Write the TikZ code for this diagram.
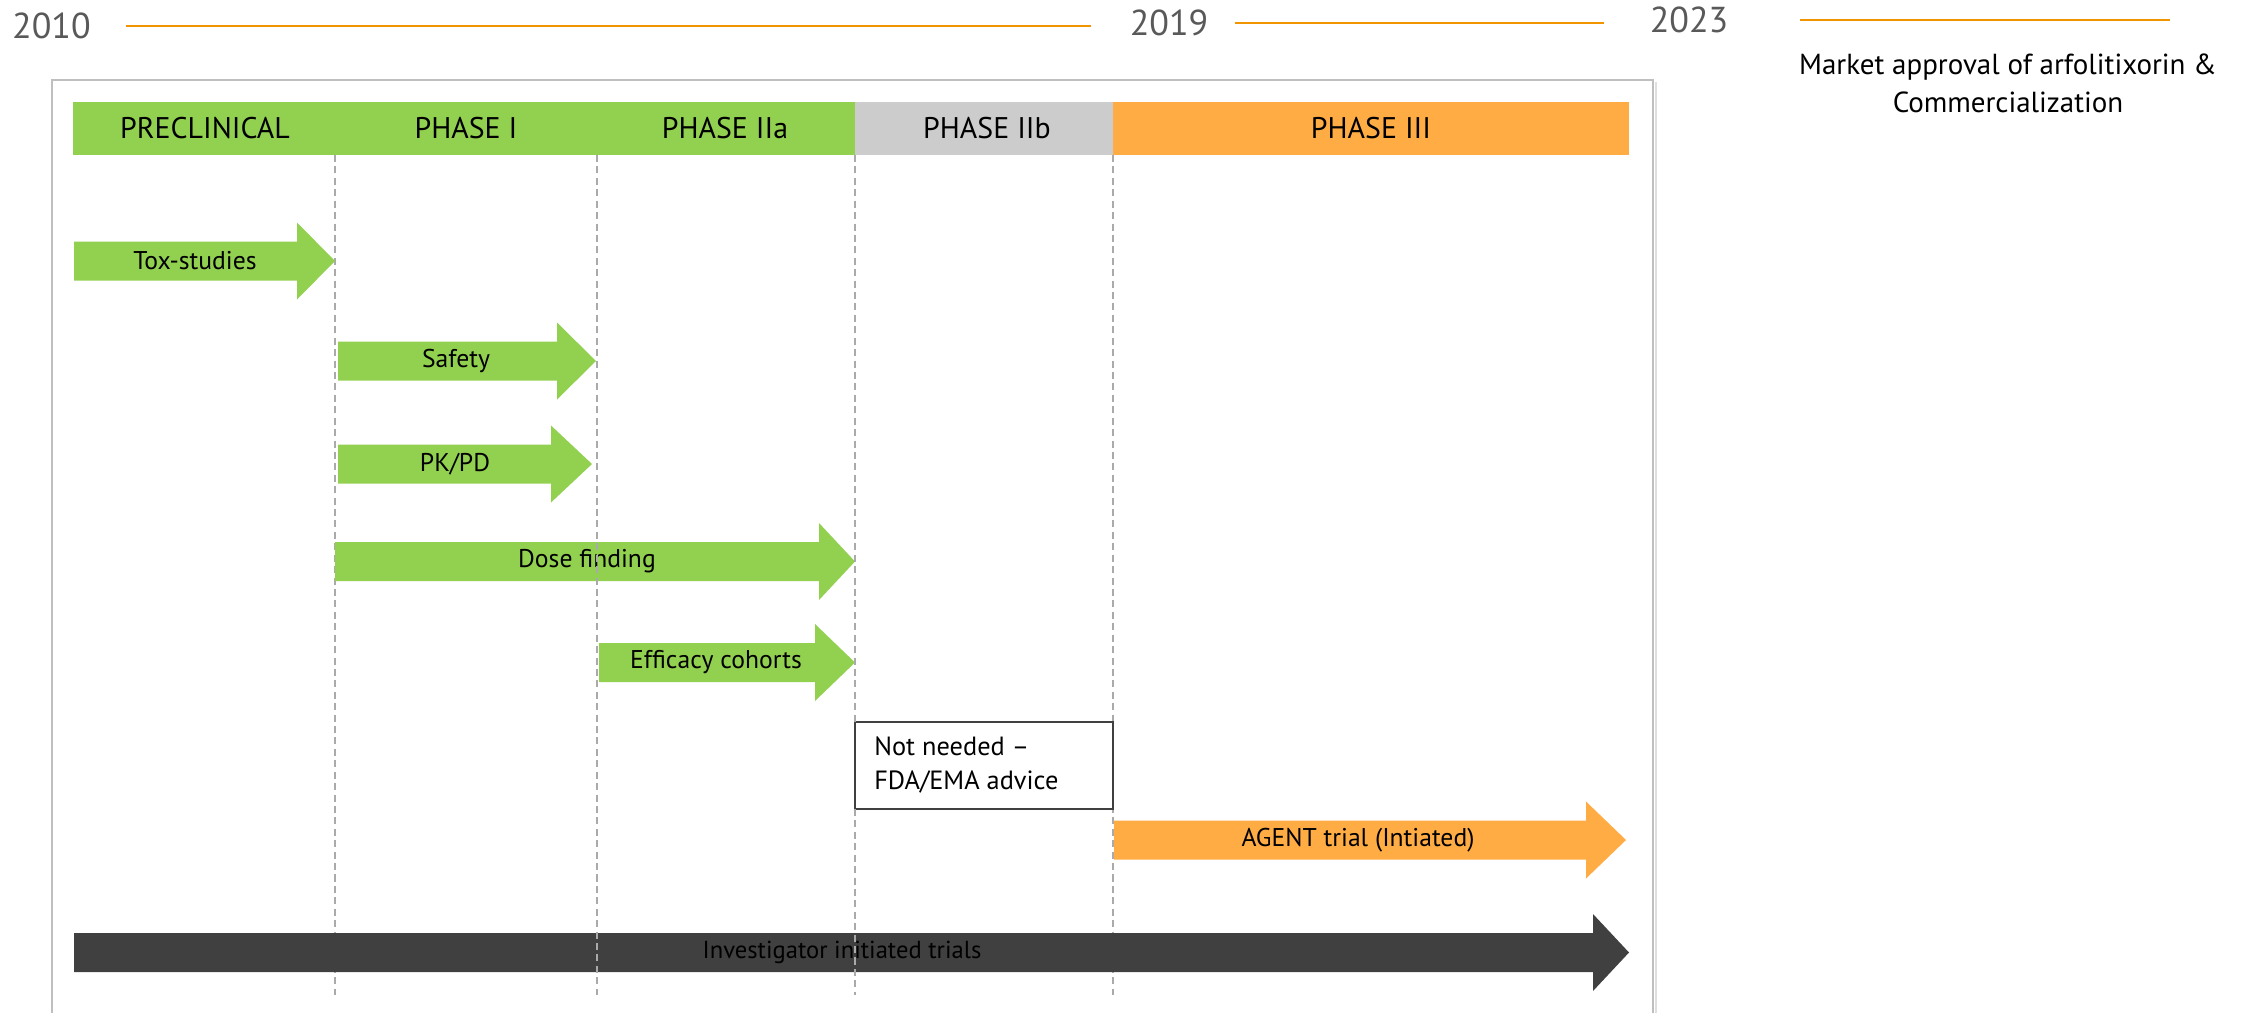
\documentclass[tikz,border=0pt]{standalone}
\usepackage{fontspec}
\setmainfont{PT Sans}
\definecolor{pgreen}{RGB}{146,208,80}
\definecolor{porange}{RGB}{255,172,69}
\definecolor{pgrey}{RGB}{204,204,204}
\definecolor{pdark}{RGB}{64,64,64}
\definecolor{tline}{RGB}{240,148,0}
\definecolor{yeartext}{RGB}{89,89,89}
\definecolor{framegrey}{RGB}{191,191,191}
\definecolor{guide}{RGB}{170,170,170}

% block arrow: name, fill, x-left, x-head, x-tip, y-centre, label, label-x
\newcommand\flowarrow[8]{%
  \fill[#2] (#3,{#6-19.5}) -- (#4,{#6-19.5}) -- (#4,{#6-38.5}) -- (#5,#6)
    -- (#4,{#6+38.5}) -- (#4,{#6+19.5}) -- (#3,{#6+19.5}) -- cycle;
  \node[arrowlabel] (#1) at (#8,#6) {#7};
}

\begin{document}
\begin{tikzpicture}[x=0.02cm,y=-0.02cm,
  yearlabel/.style={text=yeartext,font=\fontsize{20.5}{24}\selectfont,inner sep=0pt},
  yearline/.style={draw=tline,line width=1.5pt},
  phaselabel/.style={font=\fontsize{17}{20}\selectfont,inner sep=0pt},
  arrowlabel/.style={font=\fontsize{14.6}{17}\selectfont,inner sep=0pt},
  guideline/.style={draw=guide,dashed,dash pattern=on 4pt off 2.5pt,line width=0.6pt},
]
\useasboundingbox (0,0) rectangle (2246,1012);
\clip (0,0) rectangle (2246,1012);
\fill[white] (0,0) rectangle (2246,1012);

% timeline
\node[yearlabel] (y2010) at (51.5,26) {2010};
\node[yearlabel] (y2019) at (1169,23) {2019};
\node[yearlabel] (y2023) at (1689,20) {2023};
\coordinate (m1) at (1091,26);
\coordinate (m2) at (1604,23);
\coordinate (m3) at (1800,20);
\coordinate (m4) at (2170,20);
\draw[yearline] (126,26) -- (m1);
\draw[yearline] (1235,23) -- (m2);
\draw[yearline] (m3) -- (m4);
\node[font=\fontsize{16.5}{21.6}\selectfont,align=center,inner sep=0pt] (market) at (2008,83)
  {Market approval of arfolitixorin \&\\Commercialization};

% frame
\draw[framegrey!50,line width=1.2pt] (1656,82) -- (1656,1030);
\draw[framegrey,line width=1pt] (52,1030) -- (52,80) -- (1653,80) -- (1653,1030);

% phase header
\fill[pgreen] (73,102) rectangle (1113,155);
\fill[pgrey] (855,102) rectangle (1113,155);
\fill[porange] (1113,102) rectangle (1629,155);
\node[phaselabel] (pre) at (205,128.5) {PRECLINICAL};
\node[phaselabel] (p1) at (466,128.5) {PHASE I};
\node[phaselabel] (p2a) at (725,128.5) {PHASE IIa};
\node[phaselabel] (p2b) at (987,128.5) {PHASE IIb};
\node[phaselabel] (p3) at (1371,128.5) {PHASE III};

% guide lines behind the arrows
\draw[guideline] (335,155) -- (335,995);
\draw[guideline] (1113,155) -- (1113,995);

% study arrows
\flowarrow{tox}{pgreen}{74}{297}{335}{261}{Tox-studies}{195}
\flowarrow{safety}{pgreen}{338}{557}{596}{361}{Safety}{456}
\flowarrow{pkpd}{pgreen}{338}{551}{592}{464}{PK/PD}{455}
\flowarrow{dose}{pgreen}{335}{819}{855}{561.5}{Dose finding}{587}
\flowarrow{eff}{pgreen}{599}{815}{855}{662.5}{Efficacy cohorts}{716}
\flowarrow{agent}{porange}{1114}{1586}{1626}{840}{AGENT trial (Intiated)}{1358}
\flowarrow{iit}{pdark}{74}{1593}{1629}{952.5}{\fontsize{14}{17}\selectfont Investigator initiated trials}{842}

% phase IIb note
\draw[pdark,line width=0.7pt,fill=white] (855,722) rectangle (1113,809);
\node[font=\fontsize{15}{19.4}\selectfont,align=left,anchor=west,inner sep=0pt] (note) at (874,765)
  {Not needed --\\FDA/EMA advice};

% guide lines drawn over the arrows
\draw[guideline] (597,155) -- (597,995);
\draw[guideline] (855,155) -- (855,722);
\draw[guideline] (855,809) -- (855,995);
\end{tikzpicture}
\end{document}
